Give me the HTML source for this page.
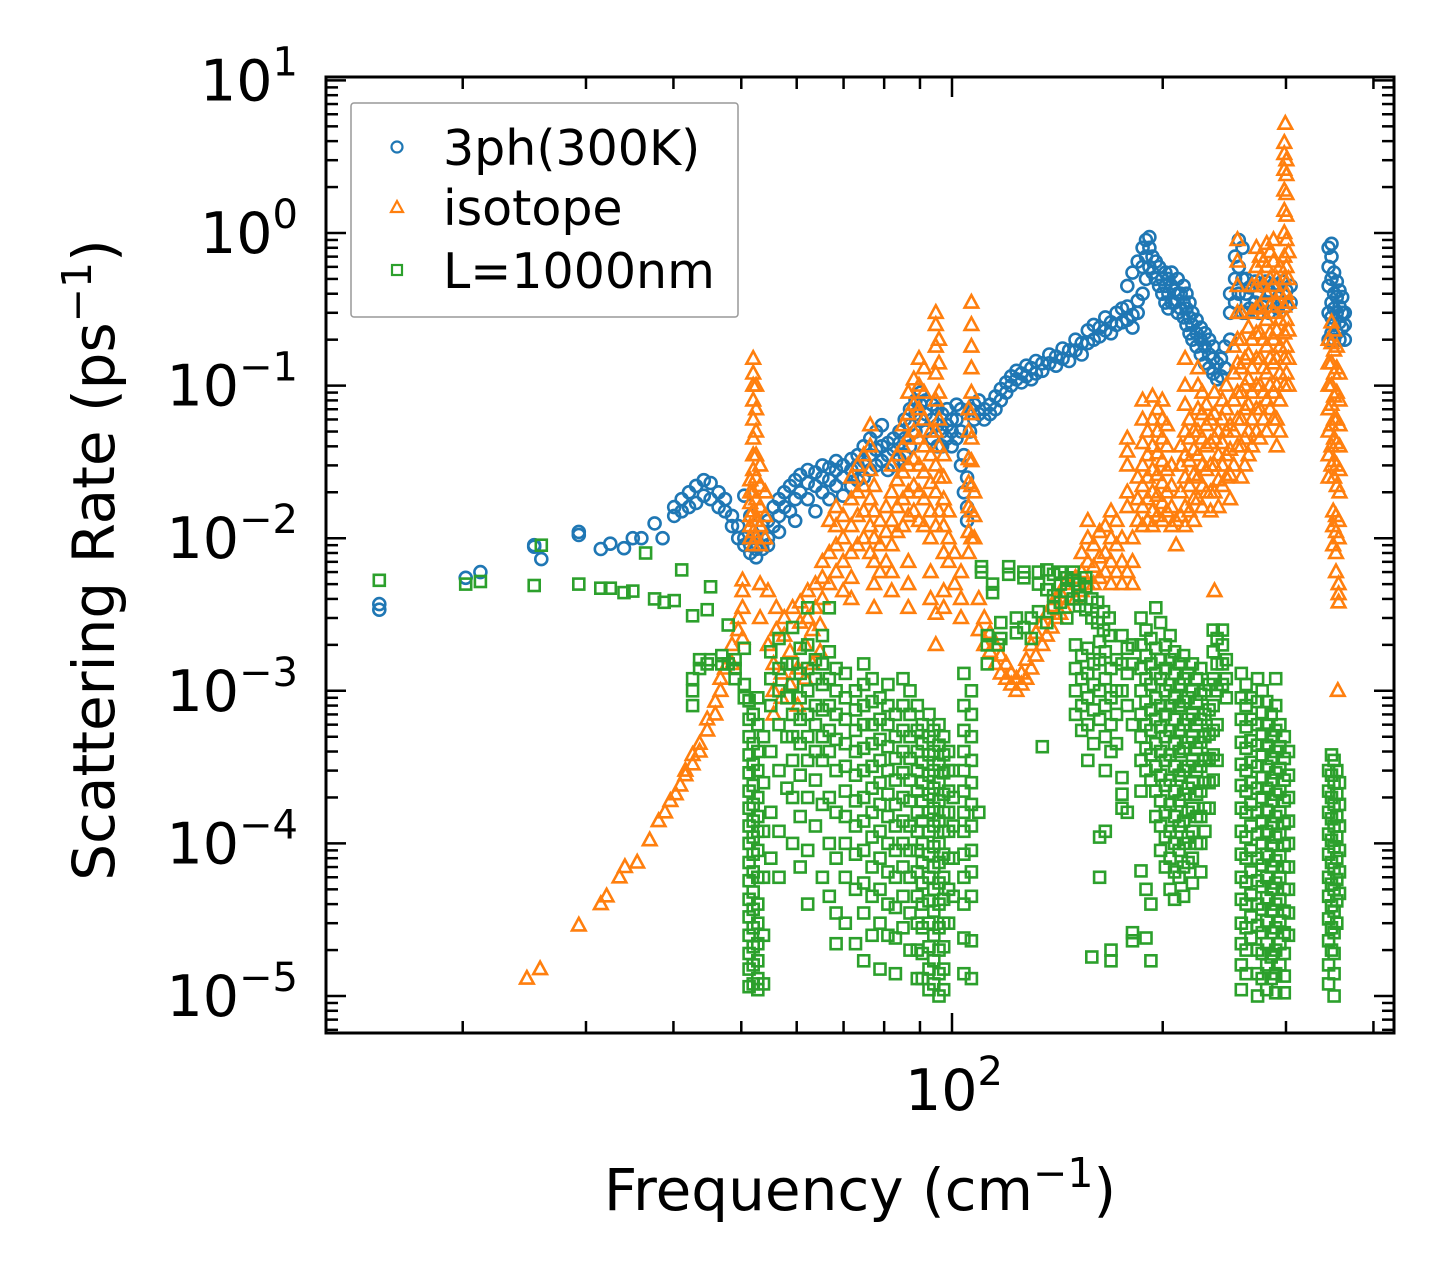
<!DOCTYPE html>
<html><head><meta charset="utf-8"><title>Scattering Rate vs Frequency</title>
<style>
html,body{margin:0;padding:0;background:#fff;}
svg{display:block;font-family:"DejaVu Sans","Liberation Sans",sans-serif;}
</style></head>
<body>
<svg id="chart" width="1455" height="1284" viewBox="0 0 1455 1284" xmlns="http://www.w3.org/2000/svg">
<defs><clipPath id="plotclip"><rect x="326" y="77" width="1068" height="956"/></clipPath></defs>
<rect x="0" y="0" width="1455" height="1284" fill="#fff"/>
<g id="marks" clip-path="url(#plotclip)"></g>
<g id="ticks"></g>
<rect x="326" y="77" width="1068" height="956" fill="none" stroke="#000" stroke-width="3"/>
<g id="ylabels" font-size="57" fill="#000"></g>
<text x="954" y="1110" font-size="57" text-anchor="middle">10<tspan font-size="40" dy="-25">2</tspan></text>
<text x="860" y="1210" font-size="58" text-anchor="middle">Frequency (cm<tspan font-size="41" dy="-23">−1</tspan><tspan dy="23">)</tspan></text>
<text transform="translate(114,560) rotate(-90)" font-size="58" text-anchor="middle">Scattering Rate (ps<tspan font-size="41" dy="-23">−1</tspan><tspan dy="23">)</tspan></text>
<g>
<rect x="351" y="103" width="387" height="214" fill="#fff" fill-opacity="0.85" stroke="#999" stroke-width="1.5" rx="3"/>
<circle cx="397" cy="147" r="5.5" fill="none" stroke="#1f77b4" stroke-width="2.2"/>
<text x="443" y="165" font-size="49">3ph(300K)</text>
<polygon points="397,201 403,212 391,212" fill="none" stroke="#ff7f0e" stroke-width="2.2"/>
<text x="443" y="225" font-size="49">isotope</text>
<rect x="392" y="265" width="10" height="10" fill="none" stroke="#2ca02c" stroke-width="2.2"/>
<text x="443" y="288" font-size="49">L=1000nm</text>
</g>
</svg>
<script>
// ---- data: 3ph(300K) ----
const threePhFreq = [15.2,20.2,21.2,25.3,25.9,29.3,31.5,32.5,34,35,36,37.6,38.6,40.1,41.1,42.1,43.1,44.2,45.2,46.4,47.4,48.5,49.5,50.5,51.5,52.5,53.6,54.6,55.6,56.6,57.6,58.7,59.7,60.7,62.2,63.8,65.3,66.8,68.3,69.9,71.8,73.3,74.8,76.4,77.9,79.4,81,82.5,84.1,85.6,87.1,88.7,90.2,91.7,93.7,95.3,96.8,98.4,99.9,101.5,103,104,105.1,106.1,107.6,109.2,111.2,113.3,115.4,117.4,119.5,121.5,123.6,125.7,127.7,129.8,131.8,134.6,137.7,140.8,143.9,147,150.1,153.2,156.3,159.4,162.5,165.6,168.7,171.8,174.9,178,181.1,184.2,187.2,189.3,191.4,193.4,195.5,197.6,199.7,201.8,203.8,205.9,208,210.1,212.2,214.2,216.3,218.4,220.5,223.6,226.7,229.8,233,236.1,239.2,242.3,245.4,249.6,253.8,256.9,260,263.1,266.2,271.2,274.3,277.4,280.6,283.7,287.9,292,296.2,300.4,304.6,345.2,348.4,351.5,354.6,357.7,360.9,364];
const threePhRates = [[3.4e-3,3.7e-3],[5.5e-3],[6e-3],[8.8e-3,9e-3],[7.3e-3],[1.05e-2,1.1e-2],[8.5e-3],[9.2e-3],[8.6e-3],[1e-2],[1e-2],[1.25e-2],[1e-2],[1.4e-2,1.6e-2],[1.5e-2,1.8e-2],[1.6e-2,2e-2],[1.7e-2,2.2e-2],[1.9e-2,2.4e-2],[1.8e-2,2.3e-2],[2e-2,1.6e-2],[1.5e-2,1.8e-2],[1.2e-2,1.4e-2],[1e-2,1.2e-2],[9e-3,1e-2,1.9e-2],[8e-3,9e-3,1.4e-2],[7.5e-3,8.5e-3,1e-2],[8.5e-3,1e-2,1.2e-2],[1e-2,1.3e-2,9e-3],[1.2e-2,1.6e-2],[1.4e-2,1.8e-2,1.1e-2],[1.6e-2,2e-2],[1.5e-2,2.2e-2],[1.8e-2,2.4e-2,1.3e-2],[2e-2,2.6e-2],[1.8e-2,2.3e-2,2.8e-2],[1.5e-2,2.2e-2,2.7e-2],[2e-2,2.5e-2,3e-2],[1.8e-2,2.4e-2,2.9e-2],[2.2e-2,2.8e-2,3.2e-2],[1.9e-2,2.5e-2,3e-2],[2.2e-2,2.8e-2,3.3e-2],[2.4e-2,3e-2,3.5e-2],[2.5e-2,3.2e-2,4e-2],[2.8e-2,3.5e-2,4.5e-2],[3e-2,3.8e-2,5e-2],[3.2e-2,4e-2,5.5e-2],[2.8e-2,3.5e-2,4.2e-2],[3e-2,3.8e-2,4.5e-2],[3.3e-2,4.2e-2,5e-2],[3.5e-2,4.5e-2,6e-2],[4e-2,5.5e-2,7e-2],[5e-2,6.5e-2,8e-2],[6e-2,7.5e-2,9e-2],[5e-2,6.5e-2,8e-2],[4.5e-2,6e-2,7.5e-2],[4e-2,5.5e-2,7e-2],[4e-2,5e-2,6.5e-2],[4.5e-2,5.5e-2,7e-2],[4e-2,5e-2,6e-2],[4.5e-2,6e-2,7.5e-2],[3e-2,5e-2,7e-2],[2e-2,3.5e-2],[1.3e-2,1.6e-2,2.5e-2],[5e-2,7e-2],[6e-2,7.5e-2],[6.5e-2,8e-2],[6e-2,7e-2],[6.5e-2,7.5e-2],[7e-2,8.5e-2],[8e-2,9.5e-2],[9e-2,1.05e-1],[1e-1,1.15e-1],[1.1e-1,1.25e-1],[1.05e-1,1.2e-1],[1.15e-1,1.35e-1],[1.1e-1,1.3e-1],[1.2e-1,1.45e-1],[1.25e-1,1.4e-1],[1.4e-1,1.6e-1],[1.35e-1,1.55e-1],[1.5e-1,1.75e-1],[1.45e-1,1.7e-1],[1.7e-1,2e-1],[1.6e-1,1.9e-1],[1.9e-1,2.3e-1],[2e-1,2.5e-1],[2.1e-1,2.4e-1],[2.3e-1,2.8e-1],[2.2e-1,2.6e-1],[2.5e-1,3e-1],[2.6e-1,3.2e-1],[2.7e-1,3.3e-1,4.5e-1],[2.4e-1,2.9e-1,5.5e-1],[3e-1,3.6e-1,6.5e-1],[4e-1,6e-1,8e-1],[5e-1,7e-1,9e-1],[6e-1,8e-1,9.4e-1],[5.5e-1,7e-1],[5e-1,6.5e-1],[4.5e-1,6e-1],[4e-1,5e-1],[3.5e-1,4.5e-1,5.5e-1],[3.2e-1,4e-1,5e-1],[3.5e-1,4.5e-1,5.5e-1],[3.5e-1,4.2e-1],[3e-1,4e-1,5e-1],[3.2e-1,4e-1],[2.8e-1,3.5e-1,4.5e-1],[2.5e-1,3.2e-1,4e-1],[2.2e-1,2.8e-1,3.5e-1],[2e-1,2.5e-1,3e-1],[1.8e-1,2.2e-1,2.7e-1],[1.6e-1,2e-1,2.4e-1],[1.4e-1,1.8e-1,2.2e-1],[1.3e-1,1.6e-1,2e-1],[1.2e-1,1.5e-1,1.8e-1],[1.1e-1,1.4e-1],[1.15e-1,1.5e-1],[1.3e-1,1.8e-1],[2e-1,3e-1,4e-1],[3.5e-1,5e-1,7e-1],[4e-1,6e-1,9e-1],[3e-1,5e-1,8e-1],[3e-1,4e-1,5e-1],[3.2e-1,4.4e-1],[3.5e-1,4.8e-1],[3e-1,4e-1],[3.3e-1,4.5e-1],[3.5e-1,4.8e-1],[3e-1,4.2e-1],[3.5e-1,4.6e-1],[3.2e-1,4.5e-1],[3.5e-1,4.8e-1],[3.3e-1,4.2e-1],[3.5e-1,4.5e-1],[2e-1,3e-1,4.5e-1,6e-1,8e-1],[2.2e-1,2.8e-1,3.5e-1,5e-1,7e-1,8.5e-1],[2e-1,2.5e-1,3.2e-1,4e-1,5.5e-1],[2.2e-1,3e-1,3.8e-1,4.8e-1],[2e-1,2.6e-1,3.3e-1,4.2e-1],[2.4e-1,3e-1,3.8e-1],[2e-1,2.5e-1,3e-1]];

// ---- data: isotope ----
const isotopeFreq = [24.7,25.8,29.3,31.5,32.1,33.5,34.1,35.5,37,38.1,38.9,39.6,40.3,40.9,41.6,42.6,43.6,44.7,45.9,46.7,47.4,48.5,49.5,50.2,51.5,52,52.5,53.2,54.1,54.6,55.6,56.1,57.1,57.6,58.7,59.2,60.2,60.7,61.7,62.2,63.2,63.8,64.8,65.3,66.8,68.3,69.9,71.8,73.3,74.8,76.4,77.4,78.9,80.5,82,83.5,85.1,86.6,88.2,89.7,91.2,93.2,94.8,95.8,97.3,98.9,100.9,103,105.6,106.6,107.6,109.2,111.2,113.3,115.4,117.4,119.5,121.5,123.6,125.7,127.7,129.8,131.8,134.6,136.6,138.7,140.8,142.8,144.9,150.1,153.2,156.3,159.4,162.5,165.6,168.7,171.8,174.9,178,181.1,184.2,187.2,190.3,193.4,196.6,199.7,202.8,205.9,209,212.2,215.3,218.4,221.5,224.6,227.8,230.9,234,237.1,240.2,243.4,246.5,249.6,252.7,255.8,259,262.1,265.2,268.3,272.2,275.4,278.5,281.6,284.7,287.9,291,294.1,298.3,299.3,300.4,302.5,345.2,348.4,350.4,351.5,353.6,354.6,355.7,356.7,357.7];
const isotopeRates = [[1.3e-5],[1.5e-5],[2.9e-5],[4e-5],[4.5e-5],[6e-5],[7e-5],[7.5e-5],[1.05e-4],[1.4e-4],[1.6e-4],[1.9e-4],[2.1e-4],[2.4e-4],[2.8e-4,3e-4],[3.3e-4,3.8e-4],[4e-4,4.5e-4],[5.5e-4,6.5e-4],[7e-4,8.5e-4],[1e-3,1.2e-3],[1.4e-3],[1.5e-3,2e-3],[2.5e-3,3e-3],[2.2e-3,3.5e-3,4.5e-3,5.3e-3],[1e-2,1.2e-2,1.4e-2,1.7e-2,2e-2,2.4e-2],[9e-3,1.1e-2,1.5e-2,2e-2,2.8e-2,3.5e-2,4.5e-2,6e-2,8e-2,1e-1,1.2e-1,1.5e-1],[1e-2,1.3e-2,1.8e-2,2.5e-2,3.5e-2,5e-2,7e-2,1e-1],[9e-3,1.2e-2,1.6e-2,2.2e-2,3e-2,3e-3,5e-3],[1e-2,1.4e-2,2e-2],[2e-3,4.5e-3],[7e-4,1e-3,1.5e-3],[2.5e-3,3.5e-3],[9e-4,1.3e-3],[2.3e-3,3e-3],[1.1e-3,1.8e-3],[3.5e-3],[8e-4,1.4e-3],[2.8e-3,3.8e-3],[1.2e-3,2e-3],[3e-3,4.5e-3],[1.5e-3,2.5e-3],[3.5e-3,5e-3],[1.8e-3,2.7e-3],[4e-3,5.5e-3,7e-3],[5e-3,8e-3,1.3e-2],[6e-3,9e-3,1.2e-2,1.6e-2],[7e-3,1e-2,1.4e-2,4.5e-3],[8e-3,1.2e-2,1.8e-2,2.5e-2,4e-3,5.5e-3],[9e-3,1.4e-2,2e-2,3e-2],[1e-2,1.5e-2,2.2e-2,3.5e-2],[8e-3,1.2e-2,1.8e-2,2.8e-2,4e-2,5.5e-2],[7e-3,1e-2,1.5e-2,2.2e-2,3.5e-3,5e-3],[6e-3,9e-3,1.3e-2],[7e-3,1.1e-2,1.6e-2],[9e-3,1.3e-2,2e-2,3e-2,4.5e-3,6e-3],[1.1e-2,1.6e-2,2.4e-2,3.5e-2],[1.2e-2,1.8e-2,2.7e-2,4e-2,5.5e-2],[1.4e-2,2e-2,3e-2,4.5e-2,6.5e-2,9e-2,3.5e-3,5e-3,7e-3],[1.5e-2,2.2e-2,3.3e-2,5e-2,7.5e-2,1.1e-1],[1.3e-2,2e-2,3e-2,4.5e-2,7e-2,1e-1,1.5e-1],[1.2e-2,1.8e-2,2.7e-2,4e-2,6e-2,9e-2,1.3e-1],[1e-2,1.5e-2,2.3e-2,3.5e-2,5e-2,4e-3,6e-3],[1.2e-2,2e-2,3e-2,5e-2,8e-2,1.2e-1,1.8e-1,2.5e-1,3e-1,3.2e-3,2e-3],[1.5e-2,2.5e-2,4e-2,6e-2,9e-2,1.4e-1,2e-1],[8e-3,1.2e-2,1.8e-2,2.5e-2,3.5e-2,3.5e-3,4.5e-3],[7e-3,1e-2,1.5e-2],[5e-3,8e-3],[3e-3,4e-3,6e-3],[8e-3,1.1e-2,1.6e-2,2.3e-2,3.3e-2,5e-2,7e-2],[1e-2,1.5e-2,2.2e-2,3.2e-2,4.5e-2,6.5e-2,9e-2,1.3e-1,1.8e-1,2.5e-1,3.5e-1],[1e-2,1.4e-2,2e-2],[4e-3,2.5e-3],[3e-3,2e-3],[2.4e-3,1.8e-3],[2e-3,1.5e-3],[1.7e-3,1.3e-3],[1.5e-3,1.2e-3],[1.3e-3,1.1e-3],[1.2e-3,1e-3],[1.1e-3,1.3e-3],[1.2e-3,1.6e-3],[1.4e-3,2e-3],[1.7e-3,2.4e-3],[2e-3,2.8e-3],[2.3e-3,3.2e-3],[2.6e-3,3.6e-3],[3e-3,4e-3],[3.2e-3,4.4e-3],[3.5e-3,5e-3],[4e-3,5.5e-3],[4.5e-3,6e-3,8e-3],[5e-3,7e-3,1e-2,1.3e-2],[5e-3,6.5e-3,9e-3],[5.5e-3,7.5e-3,1.1e-2],[6e-3,8e-3,1.2e-2],[5e-3,7e-3,1e-2,1.5e-2],[6e-3,9e-3,1.3e-2],[5e-3,7e-3,1e-2],[6e-3,1.6e-2,2e-2,3e-2,3.7e-2,4.5e-2],[5e-3,7e-3,1e-2],[1.3e-2,1.8e-2,2.5e-2],[1.2e-2,1.6e-2,2.2e-2,3e-2,4.2e-2,6e-2,8e-2],[1.3e-2,1.8e-2,2.5e-2,3.5e-2,5e-2],[1.2e-2,1.5e-2,2e-2,2.8e-2,4e-2,6e-2,8.5e-2],[1.4e-2,1.9e-2,2.6e-2,3.6e-2,5e-2,7e-2],[1.3e-2,1.7e-2,2.3e-2,3.2e-2,4.5e-2,6e-2,8e-2],[1.5e-2,2e-2,2.8e-2,4e-2,5.5e-2],[1.2e-2,1.6e-2,2.2e-2,3e-2],[9e-3,1.3e-2],[1.4e-2,2e-2,3e-2,4e-2],[1.2e-2,1.6e-2,2.5e-2,3.5e-2,5e-2,7.5e-2,1e-1,1.5e-1],[1.5e-2,2.2e-2,3.2e-2,4.5e-2,6e-2],[1.3e-2,1.8e-2,2.6e-2,3.8e-2,5e-2],[1.8e-2,2.5e-2,3.5e-2,5e-2,7e-2,1e-1,1.3e-1],[1.6e-2,2.2e-2,3e-2,4.5e-2,6.5e-2,9e-2],[2e-2,2.8e-2,4e-2,5.5e-2,7.5e-2],[1.5e-2,2e-2,3e-2,4.2e-2,6e-2],[2e-2,3e-2,4.5e-2,6.5e-2,9e-2,4.5e-3],[1.6e-2,2.4e-2,3.5e-2,5e-2],[2.2e-2,3e-2,4.2e-2,6e-2,8e-2],[2.5e-2,3.5e-2,5e-2,7e-2,1e-1],[1.8e-2,2.6e-2,3.8e-2,5.5e-2],[3e-2,5e-2,8e-2,1.2e-1,1.8e-1],[4e-2,6e-2,9e-2,1.4e-1,2e-1,3e-1,4.5e-1,6.5e-1,9e-1],[2.5e-2,4e-2,6e-2,9e-2,1.3e-1,2e-1,3e-1],[3e-2,4.5e-2,7e-2,1e-1,1.5e-1],[3.5e-2,5e-2,7.5e-2,1.1e-1,1.6e-1,2.4e-1],[4e-2,6e-2,9e-2,1.3e-1,2e-1,3e-1,4.5e-1],[5e-2,7e-2,1e-1,1.5e-1,2.2e-1,3.2e-1,4.5e-1,6e-1,8e-1],[4.5e-2,7e-2,1e-1,1.5e-1,2.2e-1,3.3e-1,5e-1,7e-1],[6e-2,9e-2,1.3e-1,2e-1,3e-1,4.5e-1,6.5e-1],[5e-2,8e-2,1.2e-1,1.8e-1,2.7e-1,4e-1,6e-1,8.5e-1],[7e-2,1e-1,1.5e-1,2.2e-1,3.3e-1,5e-1,7.5e-1],[6e-2,9e-2,1.4e-1,2e-1,3e-1,4.5e-1,6.5e-1,9e-1],[4e-2,6e-2,1e-1,1.5e-1,2.3e-1,3.5e-1,5e-1],[5e-2,8e-2,1.2e-1,1.8e-1,2.7e-1,4e-1,6e-1],[1e-1,1.5e-1,2.2e-1,3.3e-1,5e-1,7e-1,1,1.4,1.9,2.6,3.3,3.9],[5.2],[1.2e-1,1.8e-1,2.7e-1,4e-1,6e-1,9e-1,1.3,1.8,2.4,3],[1e-1,1.5e-1,2.3e-1,3.5e-1,5e-1,7.5e-1],[2.5e-2,3.5e-2,5e-2,7e-2,1e-1,1.4e-1,2e-1],[3e-2,4e-2,5.5e-2,7.5e-2,1e-1,1.4e-1,1.9e-1,2.6e-1],[1.5e-2,1.2e-2,9e-3],[2.5e-2,3.2e-2,4.5e-2,6e-2,8.5e-2,1.2e-1,1.7e-1,2.3e-1],[1.4e-2,1.1e-2,8e-3,6e-3],[2.2e-2,3e-2,4.2e-2,6e-2,9e-2,1.3e-1,1.8e-1],[1e-3],[1.3e-2,1e-2,5e-3,4.3e-3,3.8e-3],[2e-2,2.8e-2,4e-2,5.5e-2,8e-2,1.2e-1]];

// ---- data: L=1000nm boundary ----
const boundaryFreq = [15.2,20.2,21.2,25.3,25.9,29.3,31.5,32.5,34,35,36.5,37.6,38.8,40.1,41.1,42.6,43.6,44.7,45.2,46.9,47.9,49,50.5,51.3,52,52.8,53.8,55.1,56.6,58.1,59.2,60.7,62.2,63.8,65.3,66.8,68.3,70.4,72.8,74.8,76.9,78.9,81,83,85.1,87.1,89.2,90.7,92.7,94.2,95.8,97.3,98.9,100.4,104,106.6,109.2,110.2,112.3,114.3,116.4,117.4,120.5,123.6,126.7,129.8,132.9,134.6,136.6,139.7,142.8,145.9,149,150.1,152.1,153.2,155.3,156.3,158.4,159.4,161.5,162.5,164.6,165.6,167.7,168.7,171.8,174.9,178,181.1,186.2,189.3,192.4,195.5,198.6,201.8,204.9,208,211.1,214.2,217.4,220.5,223.6,226.7,229.8,233,236.1,239.2,243.4,246.5,259,263.1,267.3,273.3,277.4,281.6,285.8,290,294.1,298.3,302.5,345.2,348.4,351.5,354.6,357.7];
const boundaryRates = [[5.3e-3],[5e-3],[5.2e-3],[4.9e-3],[9e-3],[5e-3],[4.7e-3],[4.7e-3],[4.4e-3],[4.5e-3],[8e-3],[4e-3],[3.8e-3],[3.9e-3],[6.2e-3],[3.1e-3,8e-4,1e-3,1.2e-3],[1.4e-3,1.6e-3],[3.4e-3,1.5e-3],[4.8e-3,1.6e-3],[1.5e-3,1.7e-3],[2.7e-3,1.5e-3],[1.4e-3,1.6e-3,1.2e-3],[1.9e-3,1.1e-3,9e-4],[8.6e-4,6.5e-4,5e-4,3.8e-4,2.9e-4,2.2e-4,1.7e-4,1.3e-4,1e-4,7.5e-5,5.7e-5,4.3e-5,3.3e-5,2.5e-5,1.9e-5,1.5e-5,1.15e-5],[7e-4,4.5e-4,3.3e-4,2.4e-4,1.8e-4,1.4e-4,1.1e-4,8.5e-5,6.5e-5,4.8e-5,3.7e-5,2.8e-5,2.1e-5,1.6e-5,1.2e-5],[9e-4,6e-4,4e-4,3e-4,2e-4,1.5e-4,1.2e-4,9e-5,6e-5,4e-5,3e-5,2.2e-5,1.7e-5,1.3e-5,1.1e-5],[5e-4,2.5e-4,1.2e-4,6e-5,2.5e-5,1.2e-5],[1.8e-3,1.2e-3,8e-4,4e-4,1.6e-4,8e-5],[2.2e-3,1.4e-3,1e-3,6e-4,3e-4,1.2e-4,6e-5],[1.5e-3,9e-4,5e-4,2.3e-4],[2.6e-3,1.5e-3,1.1e-3,7e-4,5e-4,3.5e-4,2e-4,1e-4],[1.9e-3,1.3e-3,9e-4,6.5e-4,4.5e-4,2.8e-4,1.5e-4,7e-5],[3.5e-3,2e-3,1.4e-3,1e-3,7e-4,5e-4,3.5e-4,2e-4,9e-5,4e-5],[1.6e-3,1.2e-3,8e-4,6e-4,4e-4,2.6e-4,1.3e-4],[2.3e-3,1.5e-3,1.1e-3,7.5e-4,5e-4,3.5e-4,1.8e-4,6e-5],[3.5e-3,1.8e-3,1.2e-3,8e-4,5.5e-4,4e-4,2e-4,1e-4,4.5e-5],[1.4e-3,1e-3,7e-4,4.8e-4,3e-4,1.6e-4,8e-5,3.5e-5,2.2e-5],[1.3e-3,9e-4,6.5e-4,4.5e-4,3.2e-4,2.2e-4,1.5e-4,1e-4,6e-5,3e-5],[1e-3,7.5e-4,5.5e-4,4e-4,2.8e-4,1.9e-4,1.3e-4,8.5e-5,5e-5,2.2e-5],[1.5e-3,1.1e-3,8e-4,6e-4,4.2e-4,3e-4,2e-4,1.4e-4,9e-5,5.5e-5,3.5e-5,1.7e-5],[1.2e-3,8.5e-4,6e-4,4.5e-4,3.2e-4,2.3e-4,1.6e-4,1.1e-4,7e-5,4.5e-5,2.5e-5],[9e-4,6.5e-4,4.8e-4,3.5e-4,2.5e-4,1.8e-4,1.2e-4,8e-5,5e-5,3e-5,1.5e-5],[1.1e-3,8e-4,6e-4,4.3e-4,3e-4,2.1e-4,1.5e-4,1e-4,6.5e-5,4e-5,2.5e-5],[7e-4,5e-4,3.6e-4,2.6e-4,1.8e-4,1.3e-4,9e-5,6e-5,3.8e-5,2.4e-5,1.4e-5],[1.2e-3,8e-4,5.5e-4,4e-4,2.9e-4,2e-4,1.4e-4,1e-4,7e-5,4.5e-5,2.8e-5],[1e-3,7e-4,5e-4,3.6e-4,2.6e-4,1.9e-4,1.3e-4,9e-5,6e-5,3.5e-5,2e-5],[8e-4,5.5e-4,4e-4,3e-4,2.2e-4,1.6e-4,1.2e-4,9e-5,6.5e-5,4.5e-5,3e-5,2e-5,1.3e-5],[6e-4,4.5e-4,3.4e-4,2.5e-4,1.9e-4,1.4e-4,1e-4,7.5e-5,5.5e-5,4e-5,2.8e-5,1.9e-5,1.3e-5],[7e-4,5e-4,3.8e-4,2.8e-4,2.1e-4,1.6e-4,1.2e-4,8.5e-5,6e-5,4.2e-5,3e-5,2.1e-5,1.5e-5,1.1e-5],[5.5e-4,4e-4,3e-4,2.3e-4,1.7e-4,1.3e-4,9.5e-5,7e-5,5e-5,3.6e-5,2.5e-5,1.7e-5,1.2e-5],[6e-4,4.4e-4,3.3e-4,2.5e-4,1.9e-4,1.4e-4,1e-4,7.5e-5,5.5e-5,4e-5,2.8e-5,2e-5,1.4e-5,1e-5],[5e-4,3.8e-4,2.9e-4,2.1e-4,1.6e-4,1.2e-4,8.5e-5,6e-5,4.3e-5,3e-5,2.1e-5,1.5e-5,1.1e-5],[4e-4,3e-4,2.2e-4,1.6e-4,1.2e-4,8e-5,5e-5,3e-5],[3e-4,2e-4,1.3e-4,8e-5,4.5e-5],[1.3e-3,8e-4,5.5e-4,4e-4,3e-4,2.2e-4,1.6e-4,1.2e-4,8.5e-5,6e-5,4e-5,2.4e-5,1.4e-5],[1e-3,7e-4,5e-4,3.5e-4,2.5e-4,1.8e-4,1.3e-4,9e-5,6.5e-5,4.5e-5,2.3e-5,1.3e-5],[1.6e-4],[6.5e-3,6e-3],[2.3e-3,2e-3,1.5e-3],[5e-3,4.4e-3],[2e-3],[2.2e-3,2.8e-3],[6.5e-3,5.8e-3],[2.4e-3,3e-3],[5.5e-3,6e-3,2.6e-3],[3e-3,2.2e-3],[6e-3,5e-3,3.3e-3],[4.3e-4],[6.2e-3,4.6e-3,2.8e-3],[5.8e-3,4.2e-3,3.5e-3],[5e-3,6e-3,3.8e-3],[4.5e-3,5.5e-3,3e-3],[5.3e-3,4e-3,6e-3],[2e-3,1.4e-3,1e-3,7e-4],[4.2e-3,5e-3,3.6e-3],[1.7e-3,1.2e-3,8e-4,5.5e-4],[4.8e-3,3.4e-3,5.5e-3],[1.9e-3,1.3e-3,9e-4,6e-4,3.5e-4],[4e-3,3e-3,1.8e-5],[1.5e-3,1.1e-3,7.5e-4,4.5e-4],[3.8e-3,2.8e-3],[2.1e-3,1.6e-3,1e-3,6.5e-4,1.1e-4,6e-5],[3.3e-3,2.5e-3],[1.8e-3,1.2e-3,8e-4,5e-4,3e-4,1.2e-4],[3e-3,2.3e-3],[1.4e-3,9e-4,6e-4,4e-4,1.7e-5,2e-5],[1.6e-3,1e-3,7e-4,4.5e-4],[2.3e-3,1.5e-3,1e-3,2.7e-4,2.1e-4,1.7e-4],[1.9e-3,1.3e-3,8e-4,1.6e-4],[2e-3,1.5e-3,6e-4,2.6e-5,2.3e-5],[3e-3,2e-3,1.4e-3,1e-3,7e-4,5e-4,3.5e-4,2.2e-4,6.6e-5],[2.5e-3,1.7e-3,1.2e-3,8.5e-4,6e-4,4.2e-4,3e-4,5e-5,2.4e-5],[2.2e-3,1.5e-3,1.1e-3,7.5e-4,5.5e-4,3.8e-4,2.6e-4,4e-5,1.7e-5],[3.5e-3,1.9e-3,1.3e-3,9e-4,6.5e-4,4.5e-4,3.2e-4,2.2e-4,1.5e-4],[2.8e-3,1.6e-3,1.2e-3,8e-4,5.8e-4,4e-4,2.8e-4,1.9e-4,1.3e-4,9e-5],[2e-3,1.4e-3,1e-3,7e-4,5e-4,3.5e-4,2.4e-4,1.6e-4,1.1e-4,7e-5],[2.3e-3,1.6e-3,1.1e-3,8e-4,5.5e-4,3.8e-4,2.6e-4,1.8e-4,1.2e-4,8e-5,5e-5],[1.8e-3,1.3e-3,9e-4,6.5e-4,4.5e-4,3.2e-4,2.2e-4,1.5e-4,1e-4,6.5e-5,4.3e-5],[1.5e-3,1.1e-3,8e-4,5.5e-4,4e-4,2.8e-4,1.9e-4,1.3e-4,9e-5,6e-5],[1.7e-3,1.2e-3,8.5e-4,6e-4,4.2e-4,3e-4,2.1e-4,1.4e-4,1e-4,7e-5,4.5e-5],[1.3e-3,9e-4,6.5e-4,4.6e-4,3.2e-4,2.3e-4,1.6e-4,1.1e-4,7.5e-5],[1.5e-3,1e-3,7e-4,5e-4,3.5e-4,2.5e-4,1.7e-4,1.2e-4,8e-5,5.5e-5],[1.2e-3,8.5e-4,6e-4,4.2e-4,3e-4,2.1e-4,1.5e-4,1e-4],[1.4e-3,9.5e-4,6.5e-4,4.6e-4,3.2e-4,2.2e-4,1.5e-4,1e-4,6.5e-5],[1e-3,7e-4,5e-4,3.5e-4,2.5e-4,1.7e-4,1.2e-4],[1.1e-3,7.5e-4,5.2e-4,3.6e-4,2.5e-4,1.7e-4],[2.5e-3,1.8e-3,1.2e-3,8e-4,5.5e-4,3.8e-4,2.6e-4],[2.2e-3,1.5e-3,1e-3,6e-4,3.5e-4],[2.5e-3,2e-3,1.5e-3,1.1e-3],[1.6e-3,1.2e-3,9e-4],[1.3e-3,9e-4,6.5e-4,4.6e-4,3.3e-4,2.4e-4,1.7e-4,1.2e-4,8.5e-5,6e-5,4.3e-5,3e-5,2.2e-5,1.6e-5,1.1e-5],[1.1e-3,8e-4,5.8e-4,4.2e-4,3e-4,2.2e-4,1.6e-4,1.1e-4,8e-5,5.6e-5,4e-5,2.8e-5,2e-5,1.4e-5],[9e-4,6.5e-4,4.7e-4,3.4e-4,2.5e-4,1.8e-4,1.3e-4,9e-5,6.5e-5,4.6e-5,3.3e-5,2.4e-5],[1.2e-3,8.5e-4,6e-4,4.4e-4,3.2e-4,2.3e-4,1.6e-4,1.15e-4,8e-5,5.7e-5,4e-5,2.9e-5,2e-5,1.4e-5,1e-5],[1e-3,7.2e-4,5.2e-4,3.8e-4,2.7e-4,2e-4,1.4e-4,1e-4,7.2e-5,5.2e-5,3.7e-5,2.6e-5,1.9e-5,1.3e-5],[8.5e-4,6e-4,4.4e-4,3.2e-4,2.3e-4,1.65e-4,1.2e-4,8.5e-5,6e-5,4.4e-5,3.1e-5,2.2e-5,1.6e-5,1.1e-5],[7e-4,5e-4,3.6e-4,2.6e-4,1.9e-4,1.35e-4,9.7e-5,7e-5,5e-5,3.6e-5,2.6e-5,1.8e-5,1.3e-5],[1.2e-3,8e-4,5.5e-4,4e-4,2.9e-4,2.1e-4,1.5e-4,1.1e-4,7.7e-5,5.5e-5,4e-5,2.8e-5,2e-5,1.4e-5,1.05e-5],[6e-4,4.3e-4,3.1e-4,2.2e-4,1.6e-4,1.15e-4,8.3e-5,6e-5,4.3e-5,3.1e-5,2.2e-5,1.6e-5],[5e-4,3.6e-4,2.6e-4,1.9e-4,1.35e-4,9.7e-5,7e-5,5e-5,3.6e-5,2.6e-5,1.9e-5,1.35e-5,1.05e-5],[4e-4,2.8e-4,2e-4,1.4e-4,1e-4,7e-5,5e-5,3.5e-5,2.5e-5],[3e-4,2.2e-4,1.6e-4,1.15e-4,8.5e-5,6e-5,4.5e-5,3.2e-5,2.3e-5,1.6e-5,1.2e-5],[3.8e-4,2.8e-4,2e-4,1.45e-4,1.05e-4,7.5e-5,5.4e-5,3.9e-5,2.8e-5,2e-5],[3.5e-4,2.5e-4,1.8e-4,1.3e-4,9.5e-5,6.8e-5,5e-5,3.6e-5,2.6e-5,1.9e-5,1.4e-5,1e-5],[3e-4,2.1e-4,1.5e-4,1.1e-4,8e-5,5.8e-5,4.2e-5,3e-5],[2.5e-4,1.8e-4,1.3e-4,9e-5,6.5e-5,4.7e-5]];

// ---- axis ticks ----
const yMajorExps = [1,0,-1,-2,-3,-4,-5];
const yMajorLabels = ["1","0","−1","−2","−3","−4","−5"];
const xMinorVals = [20,30,40,50,60,70,80,90,200,300,400];

const NS = "http://www.w3.org/2000/svg";
const X0 = 952, XD = 700, Y0 = 233, YD = 152.6;
const L = 326, R = 1394, T = 77, B = 1033;
function xs(f){ return X0 + XD*Math.log10(f/100); }
function ys(v){ return Y0 - YD*Math.log10(v); }
function mk(tag, attrs){ const e=document.createElementNS(NS,tag); for(const k in attrs) e.setAttribute(k,attrs[k]); return e; }

const marks = document.getElementById('marks');
function drawSeries(freqs, rates, kind, color, name){
  const g = mk('g', {fill:'none', stroke:color, 'stroke-width':'2.6'});
  
  
  const n = Math.min(freqs.length, rates.length);
  for(let i=0;i<n;i++){
    const f = freqs[i];
    (rates[i]||[]).forEach(v=>{
      const x = xs(f), y = ys(v);
      let el;
      if(kind==='circle'){ el = mk('circle',{cx:x.toFixed(1), cy:y.toFixed(1), r:6}); }
      else if(kind==='triangle'){ el = mk('polygon',{points:`${x.toFixed(1)},${(y-7.5).toFixed(1)} ${(x+6.8).toFixed(1)},${(y+5).toFixed(1)} ${(x-6.8).toFixed(1)},${(y+5).toFixed(1)}`}); }
      else { el = mk('rect',{x:(x-5.5).toFixed(1), y:(y-5.5).toFixed(1), width:11, height:11}); }
      
      
      g.appendChild(el);
    });
  }
  marks.appendChild(g);
}
drawSeries(threePhFreq, threePhRates, 'circle', '#1f77b4', '3ph');
drawSeries(isotopeFreq, isotopeRates, 'triangle', '#ff7f0e', 'isotope');
drawSeries(boundaryFreq, boundaryRates, 'square', '#2ca02c', 'boundary');

// ticks
const ticks = document.getElementById('ticks');
function tick(x1,y1,x2,y2,name){
  const t = mk('line',{x1:x1,y1:y1,x2:x2,y2:y2,stroke:'#000','stroke-width':'2.5'});
  
  
  ticks.appendChild(t);
}
for(let e=-6; e<=1; e++){
  for(let m=1; m<=9; m++){
    const v = m*Math.pow(10,e);
    const y = ys(v);
    if(y < T || y > B) continue;
    const len = (m===1) ? 20 : 12;
    tick(L, y, L+len, y, m===1 ? 'y-major-tick' : 'y-minor-tick');
    tick(R, y, R-len, y, m===1 ? 'y-major-tick-right' : 'y-minor-tick-right');
  }
}
tick(xs(100), B, xs(100), B-20, 'x-major-tick');
tick(xs(100), T, xs(100), T+20, 'x-major-tick-top');
xMinorVals.forEach(f=>{
  const x = xs(f);
  if(x < L || x > R) return;
  tick(x, B, x, B-12, 'x-minor-tick');
  tick(x, T, x, T+12, 'x-minor-tick-top');
});
const yl = document.getElementById('ylabels');
yMajorExps.forEach((e,i)=>{
  const t = mk('text',{x:298, y:(ys(Math.pow(10,e))+20).toFixed(1), 'text-anchor':'end'});
  
  
  const a = document.createElementNS(NS,'tspan'); a.textContent = '10';
  const b = mk('tspan',{'font-size':'40', dy:'-25'}); b.textContent = yMajorLabels[i];
  t.appendChild(a); t.appendChild(b);
  yl.appendChild(t);
});
</script>
</body></html>
